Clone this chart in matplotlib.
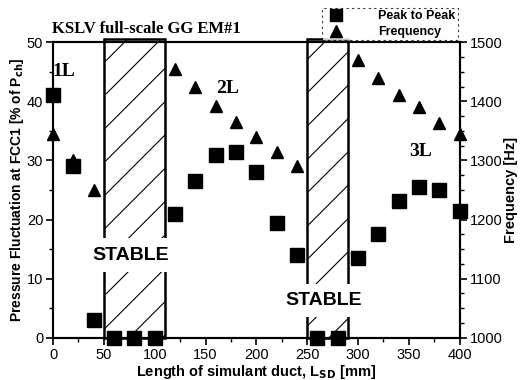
import matplotlib.pyplot as plt
from matplotlib.patches import Rectangle
from matplotlib.lines import Line2D
from matplotlib.ticker import MultipleLocator

# duct length [mm]
length_p2p = [0, 20, 40, 60, 80, 100, 120, 140, 160, 180, 200, 220, 240,
              260, 280, 300, 320, 340, 360, 380, 400]
# peak to peak pressure fluctuation [% of Pch]
p2p = [41, 29, 3, 0, 0, 0, 21, 26.5, 31, 31.5, 28, 19.5, 14,
       0, 0, 13.5, 17.5, 23.2, 25.5, 25, 21.5]

length_freq = [0, 20, 40, 120, 140, 160, 180, 200, 220, 240,
               300, 320, 340, 360, 380, 400]
freq = [1345, 1300, 1250, 1455, 1425, 1392, 1365, 1340, 1315, 1290,
        1470, 1440, 1410, 1390, 1363, 1345]

# stable ranges of duct length [mm]
stable_ranges = [(50, 110), (250, 290)]
mode_labels = ['1L', '2L', '3L']
mode_pos = [(11, 45), (172, 42.2), (362, 31.5)]
stable_pos = [(76, 14), (266, 6.3)]

sans = 'Liberation Sans'
serif = 'Liberation Serif'

plt.rcParams['hatch.linewidth'] = 0.8

fig = plt.figure(figsize=(5.2, 3.8), dpi=100)
ax = fig.add_axes([0.102, 0.111, 0.782, 0.778])
ax2 = ax.twinx()

ax.set_xlim(0, 400)
ax.set_ylim(0, 50)
ax2.set_ylim(1000, 1500)

for x0, x1 in stable_ranges:
    ax.add_patch(Rectangle((x0, 0), x1 - x0, 50.5, facecolor='white',
                           edgecolor='black', hatch='/', linewidth=1.8,
                           clip_on=False, zorder=1))

for (x, y) in stable_pos:
    ax.text(x, y, 'STABLE', ha='center', va='center', fontsize=14,
            fontweight='bold', family=sans, zorder=3,
            bbox=dict(facecolor='white', edgecolor='none', pad=6))

for lab, (x, y) in zip(mode_labels, mode_pos):
    ax.text(x, y, lab, ha='center', va='center', fontsize=14,
            fontweight='bold', family=serif, zorder=3)

ax.plot(length_p2p, p2p, 's', color='black', markersize=9.5,
        clip_on=False, zorder=5)
ax2.plot(length_freq, freq, '^', color='black', markersize=9,
         clip_on=False, zorder=5)

ax.xaxis.set_major_locator(MultipleLocator(50))
ax.xaxis.set_minor_locator(MultipleLocator(25))
ax.yaxis.set_major_locator(MultipleLocator(10))
ax.yaxis.set_minor_locator(MultipleLocator(5))
ax2.yaxis.set_major_locator(MultipleLocator(100))
ax2.yaxis.set_minor_locator(MultipleLocator(25))

for a in (ax, ax2):
    a.tick_params(which='major', length=5, width=1.2, labelsize=10.5, pad=2)
    a.tick_params(which='minor', length=3, width=1)
    for s in a.spines.values():
        s.set_linewidth(1.5)
    for t in a.get_xticklabels() + a.get_yticklabels():
        t.set_family(sans)

ax.set_xlabel(r'Length of simulant duct, L$_{\mathbf{SD}}$ [mm]',
              family=sans, fontweight='bold', fontsize=10.5, labelpad=1)
ax.set_ylabel(r'Pressure Fluctuation at FCC1 [% of P$_{\mathbf{ch}}$]',
              family=sans, fontweight='bold', fontsize=10, labelpad=1)
ax2.set_ylabel('Frequency [Hz]', family=sans, fontweight='bold',
               fontsize=10.5, labelpad=1)

fig.text(0.1, 0.903, 'KSLV full-scale GG EM#1', family=serif,
         fontweight='bold', fontsize=12, ha='left', va='bottom')

handles = [Line2D([], [], marker='s', ls='none', color='black', markersize=9),
           Line2D([], [], marker='^', ls='none', color='black', markersize=9)]
leg = fig.legend(handles, ['Peak to Peak', 'Frequency'], loc='lower right',
                 bbox_to_anchor=(0.88, 0.894), frameon=True, fancybox=False,
                 handletextpad=2.4, borderpad=0.15, labelspacing=0.35,
                 borderaxespad=0,
                 prop={'family': sans, 'weight': 'bold', 'size': 9})
leg.get_frame().set_linestyle((0, (2, 3)))
leg.get_frame().set_linewidth(0.8)
leg.get_frame().set_edgecolor('black')

fig.savefig('out.png', dpi=100)
